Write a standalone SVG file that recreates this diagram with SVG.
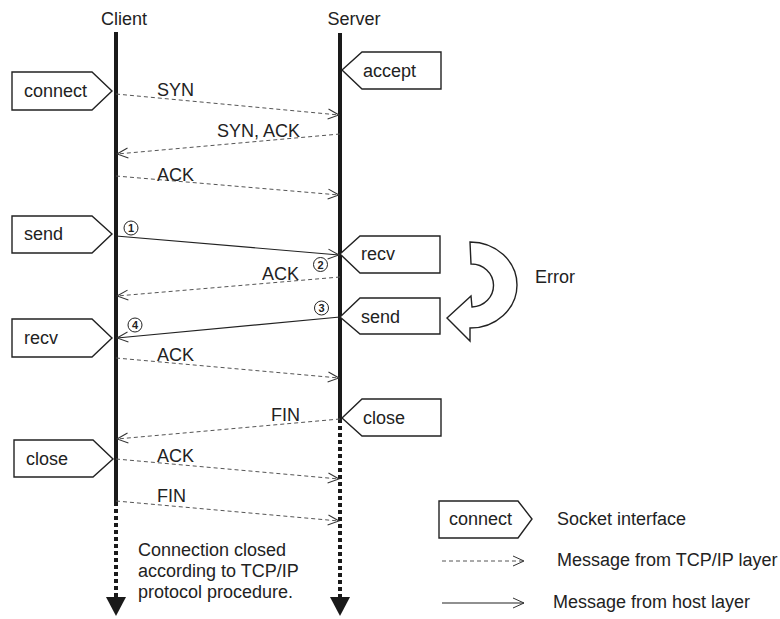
<svg xmlns="http://www.w3.org/2000/svg" width="780" height="619" viewBox="0 0 780 619">
<style>
text{font-family:"Liberation Sans",Arial,sans-serif;font-size:18px;fill:#222}
.box{fill:#fff;stroke:#222;stroke-width:1.4}
.life{stroke:#1a1a1a;stroke-width:4;fill:none}
.dot{stroke:#1a1a1a;stroke-width:4;stroke-dasharray:4 3;fill:none}
.tcp{stroke:#555;stroke-width:1;stroke-dasharray:4 3;fill:none;marker-end:url(#open)}
.host{stroke:#222;stroke-width:1.2;fill:none;marker-end:url(#open)}
.num{fill:#fff;stroke:#222;stroke-width:1}
.nt{font-size:11px;font-weight:bold;text-anchor:middle}
</style>
<defs>
<marker id="open" markerWidth="14" markerHeight="12" refX="12" refY="6" orient="auto" markerUnits="userSpaceOnUse">
<path d="M1,1 L12,6 L1,11" fill="none" stroke="#333" stroke-width="1"/>
</marker>
</defs>
<g id="client-lifeline">
<text x="124" y="25" text-anchor="middle">Client</text>
<line class="life" x1="116" y1="32" x2="116" y2="502"/>
<line class="dot" x1="116" y1="502" x2="116" y2="597"/>
<polygon points="106,597 126,597 116,616" fill="#1a1a1a"/>
</g>
<g id="server-lifeline">
<text x="354" y="25" text-anchor="middle">Server</text>
<line class="life" x1="340" y1="33" x2="340" y2="419"/>
<line class="dot" x1="340" y1="419" x2="340" y2="597"/>
<polygon points="330,597 350,597 340,616" fill="#1a1a1a"/>
</g>
<g id="connect"><polygon class="box" points="12,72 92,72 112,91 92,110 12,110"/><text x="24" y="97">connect</text></g>
<g id="accept"><polygon class="box" points="342,70 362,52 441,52 441,89 362,89"/><text x="363" y="77">accept</text></g>
<g id="client-send"><polygon class="box" points="12,216 92,216 112,234 92,253 12,253"/><text x="24" y="240">send</text></g>
<g id="server-recv"><polygon class="box" points="340,254 360,236 440,236 440,273 360,273"/><text x="361" y="260">recv</text></g>
<g id="server-send"><polygon class="box" points="340,317 360,298 440,298 440,334 360,334"/><text x="361" y="323">send</text></g>
<g id="client-recv"><polygon class="box" points="12,319 92,319 112,338 92,357 12,357"/><text x="24" y="344">recv</text></g>
<g id="server-close"><polygon class="box" points="342,418 362,399 441,399 441,436 362,436"/><text x="363" y="424">close</text></g>
<g id="client-close"><polygon class="box" points="14,440 93,440 113,459 93,477 14,477"/><text x="26" y="465">close</text></g>
<g id="error">
<path d="M470,242 A47,43 0 0 1 470,328 L470,341 L447,318 L471,296 L472,307 A22,21.5 0 0 0 471,264 Z" fill="#fff" stroke="#222" stroke-width="1.4"/>
<text x="535" y="283">Error</text>
</g>
<g id="connectors">
<line class="tcp" x1="116" y1="94" x2="339" y2="115"/>
<text x="157" y="96">SYN</text>
<line class="tcp" x1="340" y1="134" x2="117" y2="154"/>
<text x="217" y="137">SYN, ACK</text>
<line class="tcp" x1="116" y1="176" x2="339" y2="195"/>
<text x="157" y="181">ACK</text>
<line class="host" x1="116" y1="236" x2="339" y2="255"/>
<line class="tcp" x1="340" y1="277" x2="117" y2="296"/>
<text x="262" y="280">ACK</text>
<line class="host" x1="340" y1="317" x2="117" y2="338"/>
<line class="tcp" x1="116" y1="358" x2="339" y2="378"/>
<text x="157" y="361">ACK</text>
<line class="tcp" x1="340" y1="419" x2="117" y2="439"/>
<text x="271" y="421">FIN</text>
<line class="tcp" x1="116" y1="459" x2="339" y2="479"/>
<text x="157" y="462">ACK</text>
<line class="tcp" x1="116" y1="501" x2="339" y2="521"/>
<text x="157" y="502">FIN</text>
<circle class="num" cx="131" cy="228" r="7"/><text class="nt" x="131" y="232">1</text>
<circle class="num" cx="320.5" cy="264.5" r="7"/><text class="nt" x="320.5" y="268.5">2</text>
<circle class="num" cx="321.5" cy="308" r="7"/><text class="nt" x="321.5" y="312">3</text>
<circle class="num" cx="135" cy="325" r="7"/><text class="nt" x="135" y="329">4</text>
</g>
<g id="note">
<text x="138" y="556">Connection closed</text>
<text x="138" y="577">according to TCP/IP</text>
<text x="138" y="598">protocol procedure.</text>
</g>
<g id="legend">
<polygon class="box" points="439,501 518,501 532,519 518,538 439,538"/>
<text x="449" y="525">connect</text>
<text x="557" y="525">Socket interface</text>
<line class="tcp" x1="442" y1="561" x2="524" y2="561"/>
<text x="557" y="566">Message from TCP/IP layer</text>
<line class="host" x1="442" y1="603" x2="524" y2="603"/>
<text x="553" y="608">Message from host layer</text>
</g>
</svg>
